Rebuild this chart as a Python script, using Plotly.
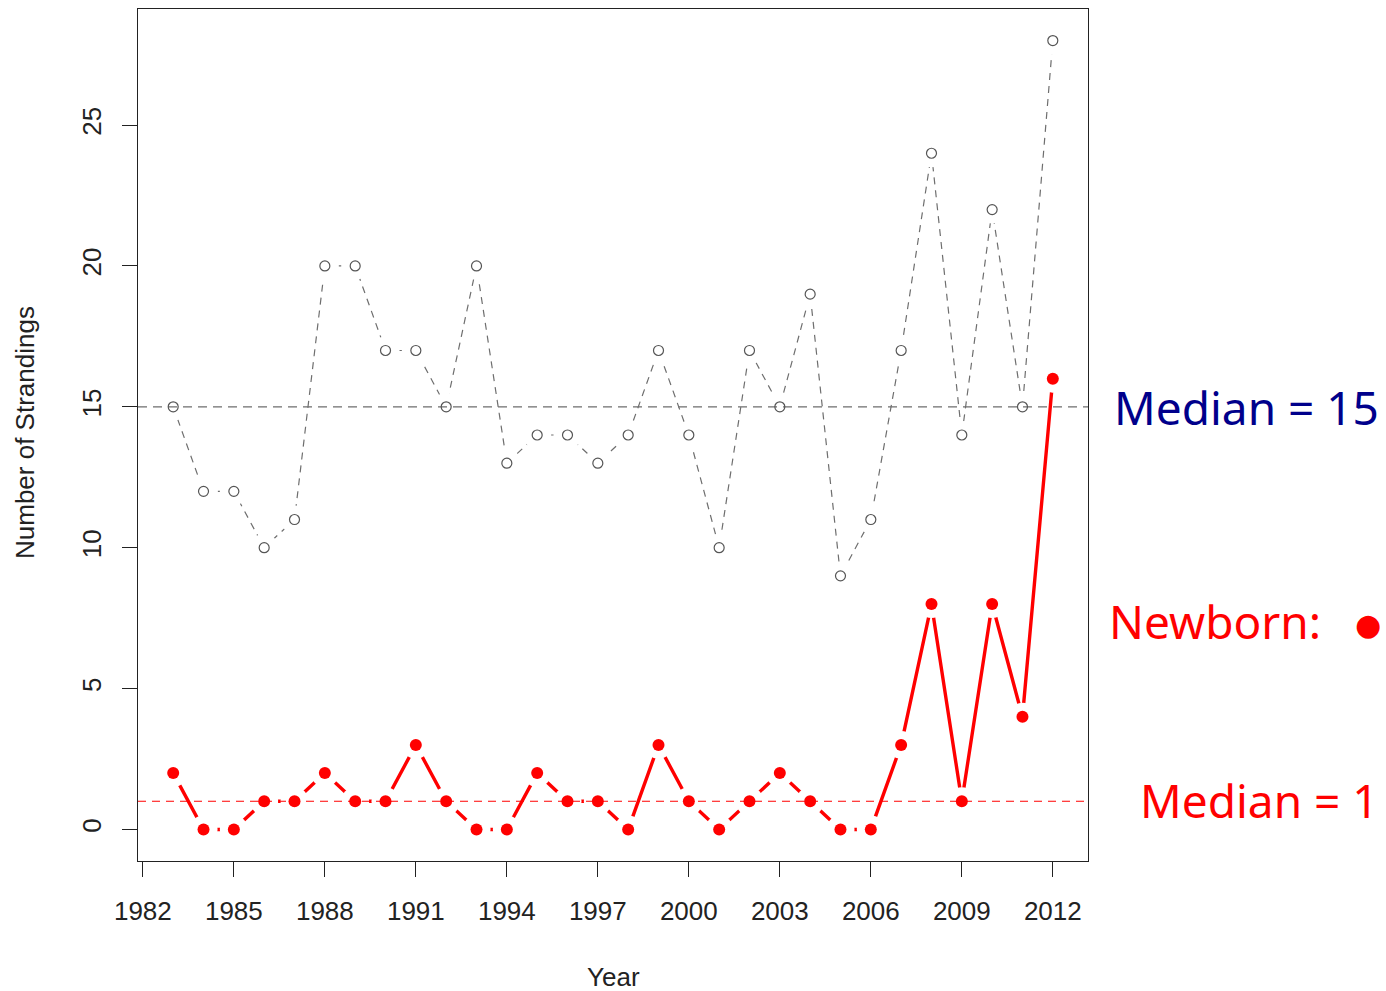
import plotly.graph_objects as go

years = list(range(1983, 2013))
total = [15, 12, 12, 10, 11, 20, 20, 17, 17, 15, 20, 13, 14, 14, 13, 14, 17, 14, 10, 17,
         15, 19, 9, 11, 17, 24, 14, 22, 15, 28]
newborn = [2, 0, 0, 1, 1, 2, 1, 1, 3, 1, 0, 0, 2, 1, 1, 0, 3, 1, 0, 1,
           2, 1, 0, 0, 3, 8, 1, 8, 4, 16]
median_total = 15
median_newborn = 1
x_ticks = list(range(1982, 2013, 3))
y_ticks = [0, 5, 10, 15, 20, 25]

FONT = "Liberation Sans, Arial, sans-serif"
LABEL_FONT = "Noto Sans, DejaVu Sans, sans-serif"

fig = go.Figure()

# connecting lines
fig.add_trace(go.Scatter(x=years, y=total, mode="lines",
                         line=dict(color="#6e6e6e", width=1.2, dash="7px,6px"),
                         hoverinfo="skip", showlegend=False))
fig.add_trace(go.Scatter(x=years, y=newborn, mode="lines",
                         line=dict(color="#ff0000", width=3.4),
                         hoverinfo="skip", showlegend=False))
# white masks to make R-style "type=b" gaps around points
fig.add_trace(go.Scatter(x=years + years, y=total + newborn, mode="markers",
                         marker=dict(color="white", size=28, line=dict(width=0)),
                         hoverinfo="skip", showlegend=False))
# median lines
xr = [1981.84, 2013.16]
fig.add_trace(go.Scatter(x=xr, y=[median_total] * 2, mode="lines",
                         line=dict(color="#6e6e6e", width=1.3, dash="9px,6px"),
                         hoverinfo="skip", showlegend=False))
fig.add_trace(go.Scatter(x=xr, y=[median_newborn] * 2, mode="lines",
                         line=dict(color="#ff0000", width=1.2, dash="8px,6px"),
                         hoverinfo="skip", showlegend=False))
# points
fig.add_trace(go.Scatter(x=years, y=total, mode="markers",
                         marker=dict(symbol="circle-open", color="#555555", size=10,
                                     line=dict(width=1.2, color="#555555")),
                         showlegend=False))
fig.add_trace(go.Scatter(x=years, y=newborn, mode="markers",
                         marker=dict(color="#ff0000", size=12),
                         showlegend=False))

axis_common = dict(showline=True, linecolor="#222222", linewidth=1.3, mirror=True,
                   ticks="outside", ticklen=15, tickwidth=1.3, tickcolor="#222222",
                   showgrid=False, zeroline=False,
                   tickfont=dict(family=FONT, size=26, color="#222222"))

fig.update_xaxes(range=xr, tickvals=x_ticks, ticktext=[str(v) for v in x_ticks],
                 ticklabelstandoff=12, **axis_common)
fig.update_yaxes(range=[-1.12, 29.12], tickvals=y_ticks, ticktext=[str(v) for v in y_ticks],
                 tickangle=-90, ticklabelstandoff=10, **axis_common)

W, H = 1386, 991
L, R, T, B = 138, 298, 9, 130
pw, ph = W - L - R, H - T - B

def px(x):
    return (x - L) / pw

def py(y):
    return (H - B - y) / ph

annotations = [
    dict(text="Year", x=px(613), y=py(977), xref="paper", yref="paper",
         showarrow=False, font=dict(family=FONT, size=26, color="#222222"),
         xanchor="center", yanchor="middle"),
    dict(text="Number of Strandings", x=px(25), y=py(433), xref="paper", yref="paper",
         showarrow=False, textangle=-90, font=dict(family=FONT, size=26, color="#222222"),
         xanchor="center", yanchor="middle"),
    dict(text="Median = 15", x=px(1381), y=py(407), xref="paper", yref="paper",
         showarrow=False, font=dict(family=LABEL_FONT, size=46, color="#00008b"),
         xanchor="right", yanchor="middle"),
    dict(text="Newborn:", x=px(1323), y=py(621), xref="paper", yref="paper",
         showarrow=False, font=dict(family=LABEL_FONT, size=46, color="#ff0000"),
         xanchor="right", yanchor="middle"),
    dict(text="●", x=px(1368), y=py(624), xref="paper", yref="paper",
         showarrow=False, font=dict(family="DejaVu Sans", size=30, color="#ff0000"),
         xanchor="center", yanchor="middle"),
    dict(text="Median = 1", x=px(1381), y=py(800), xref="paper", yref="paper",
         showarrow=False, font=dict(family=LABEL_FONT, size=46, color="#ff0000"),
         xanchor="right", yanchor="middle"),
]

fig.update_layout(width=W, height=H, margin=dict(l=L, r=R, t=T, b=B),
                  plot_bgcolor="white", paper_bgcolor="white",
                  annotations=annotations, showlegend=False)

fig.write_html("out.html",
               config={"displayModeBar": False},
               post_script="document.body.style.margin='0';"
                           "document.body.style.overflow='hidden';")
